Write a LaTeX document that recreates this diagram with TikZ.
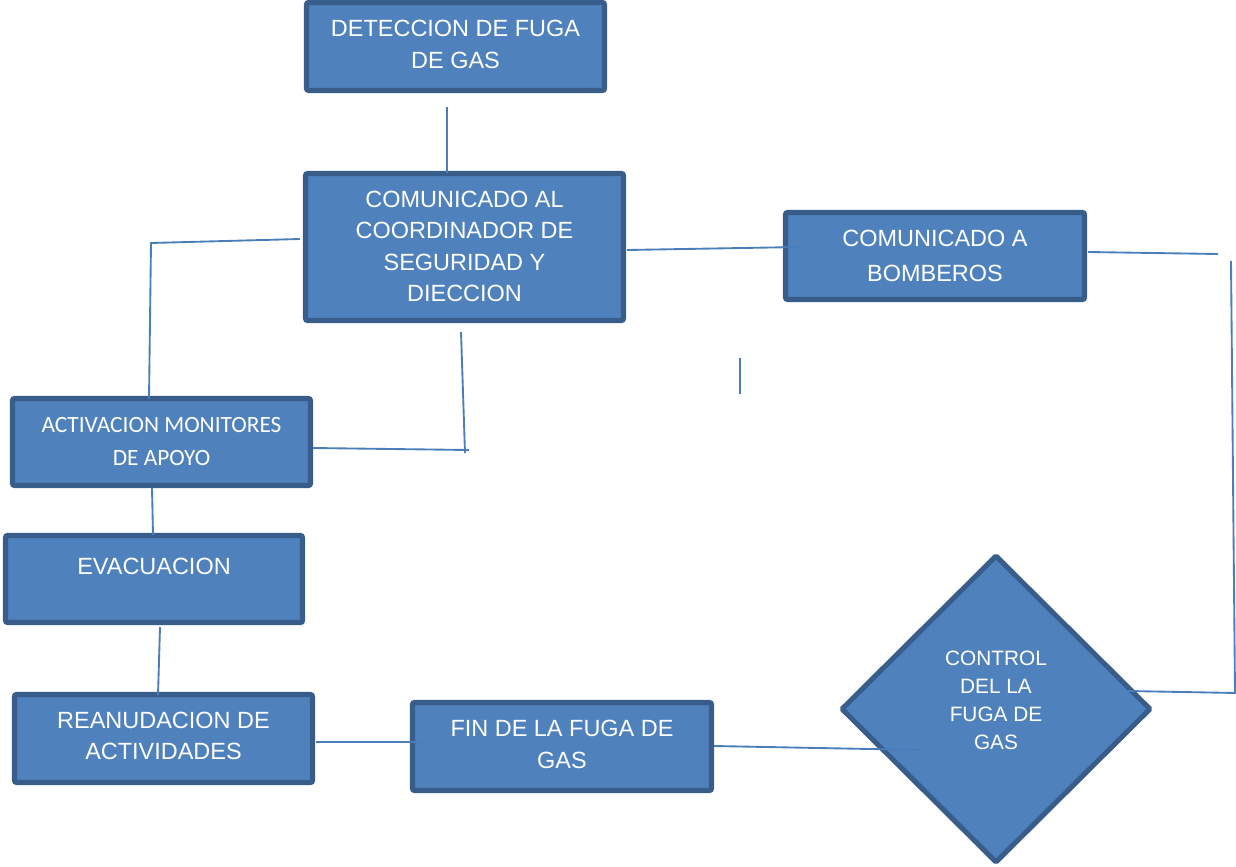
\documentclass[tikz,border=0pt]{standalone}
\usepackage{fontspec}
\setmainfont{Liberation Sans}
\newfontfamily\calibrifont{Carlito}
\usetikzlibrary{shapes.geometric}
\definecolor{fillblue}{HTML}{4F81BD}
\definecolor{edgeblue}{HTML}{385D8A}
\definecolor{linkblue}{HTML}{4A7EBB}
\begin{document}
\begin{tikzpicture}[x=0.75pt,y=-0.75pt,
  box/.style={rectangle, draw=edgeblue, fill=fillblue, line width=3.8pt, rounded corners=1.5pt, inner sep=0pt},
  dbox/.style={diamond, draw=edgeblue, fill=fillblue, line width=3.8pt, rounded corners=1pt, inner sep=0pt},
  txt/.style={text=white, align=center, inner sep=0pt, font=\fontsize{17.6}{23.5}\selectfont},
  ctxt/.style={text=white, align=center, inner sep=0pt, font=\calibrifont\fontsize{17.5}{24.75}\selectfont},
  dtxt/.style={text=white, align=center, inner sep=0pt, font=\fontsize{15.6}{21}\selectfont},
  link/.style={draw=linkblue, line width=1.4pt}]
\useasboundingbox (0,0) rectangle (1236,867);

% boxes
\node[box, minimum width=223.5pt, minimum height=66pt,
  label={[txt, yshift=1.5pt]center:{DETECCION DE FUGA\\DE GAS}}] (det) at (455.5,46.5) {};
\node[box, minimum width=238.5pt, minimum height=110.25pt,
  label={[txt, yshift=0.5pt]center:{COMUNICADO AL\\COORDINADOR DE\\SEGURIDAD Y\\DIECCION}}] (coord) at (464.5,247) {};
\node[box, minimum width=224.25pt, minimum height=65.25pt,
  label={[txt, font=\fontsize{17.6}{26}\selectfont]center:{COMUNICADO A\\BOMBEROS}}] (bomb) at (935,256) {};
\node[box, minimum width=223.5pt, minimum height=65.25pt,
  label={[ctxt]center:{ACTIVACION MONITORES\\DE APOYO}}] (act) at (161.5,442) {};
\node[box, minimum width=222.75pt, minimum height=65.25pt,
  label={[txt, yshift=9.5pt]center:{EVACUACION}}] (evac) at (154,579) {};
\node[box, minimum width=223.5pt, minimum height=66pt,
  label={[txt, yshift=2pt]center:{REANUDACION DE\\ACTIVIDADES}}] (rean) at (163.5,738.5) {};
\node[box, minimum width=224.25pt, minimum height=66pt,
  label={[txt, yshift=1.5pt]center:{FIN DE LA FUGA DE\\GAS}}] (fin) at (562,746.5) {};
\node[dbox, minimum width=232.5pt, minimum height=231pt,
  label={[dtxt, yshift=6.5pt]center:{CONTROL\\DEL LA\\FUGA DE\\GAS}}] (ctrl) at (996,709) {};

% connector end points
\coordinate (p1) at (447,107);  \coordinate (p2) at (447,173);
\coordinate (q1) at (300,239);  \coordinate (q2) at (151,243);  \coordinate (q3) at (149,399);
\coordinate (r1) at (461,332);  \coordinate (r2) at (465,453);
\coordinate (s1) at (313,448);  \coordinate (s2) at (469,450);
\coordinate (t1) at (627,250);  \coordinate (t2) at (800,247);
\coordinate (u1) at (1088,252); \coordinate (u2) at (1218,254);
\coordinate (v1) at (1231,261); \coordinate (v2) at (1235,693);
\coordinate (w1) at (1236,693); \coordinate (w2) at (1128,691);
\coordinate (x1) at (740,358);  \coordinate (x2) at (740,394);
\coordinate (y1) at (152,488);  \coordinate (y2) at (153,535);
\coordinate (z1) at (160,627);  \coordinate (z2) at (158,695);
\coordinate (k1) at (316,742);  \coordinate (k2) at (421,742);
\coordinate (m1) at (714,746);  \coordinate (m2) at (922,750);

% connectors
\draw[link] (p1) -- (p2);
\draw[link] (q1) -- (q2) -- (q3);
\draw[link] (r1) -- (r2);
\draw[link] (s1) -- (s2);
\draw[link] (t1) -- (t2);
\draw[link] (u1) -- (u2);
\draw[link] (v1) -- (v2);
\draw[link] (w1) -- (w2);
\draw[link] (x1) -- (x2);
\draw[link] (y1) -- (y2);
\draw[link] (z1) -- (z2);
\draw[link] (k1) -- (k2);
\draw[link] (m1) -- (m2);
\end{tikzpicture}
\end{document}
